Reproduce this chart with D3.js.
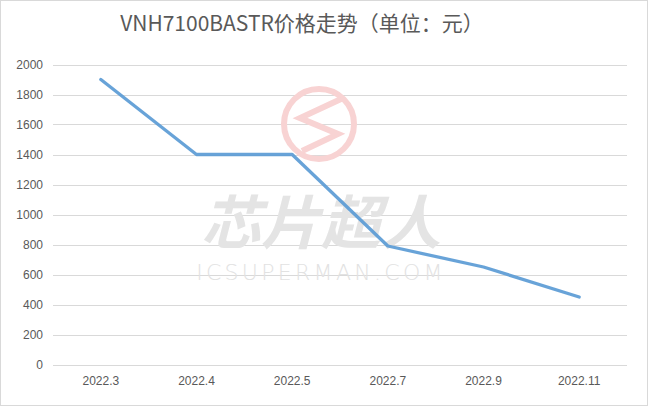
<!DOCTYPE html>
<html>
<head>
<meta charset="utf-8">
<script src="https://cdn.jsdelivr.net/npm/d3@7"></script>
<style>
  body { margin: 0; background: #fff; }
  svg { display: block; }
</style>
</head>
<body>
<svg id="chart"></svg>
<script>
// price trend data
var months = ['2022.3', '2022.4', '2022.5', '2022.7', '2022.9', '2022.11'];
var prices = [1900, 1400, 1400, 790, 650, 450];
var yTicks = [0, 200, 400, 600, 800, 1000, 1200, 1400, 1600, 1800, 2000];
var title = 'VNH7100BASTR价格走势（单位：元）';

var draw = function(){
    const width = 648, height = 406;
    const margin = {top: 64.5, right: 21, bottom: 41.5, left: 53};

    var svg = d3.select('svg#chart')
    .attr('width', width)
    .attr('height', height);

    // outer frame
    svg.append('rect')
    .attr('x', 0.5).attr('y', 0.5)
    .attr('width', width - 1).attr('height', height - 1)
    .attr('fill', '#fff')
    .attr('stroke', '#d9d9d9');

    var x = d3.scaleBand()
    .domain(months)
    .range([margin.left, width - margin.right]);

    var y = d3.scaleLinear()
    .domain([0, 2000])
    .range([height - margin.bottom, margin.top]);

    // gridlines
    svg.append('g')
    .selectAll('line')
    .data(yTicks)
    .enter().append('line')
    .attr('x1', margin.left)
    .attr('x2', width - margin.right)
    .attr('y1', d => Math.round(y(d)) + 0.5)
    .attr('y2', d => Math.round(y(d)) + 0.5)
    .attr('stroke', '#d9d9d9');

    // watermark
    var wm = svg.append('g');
    wm.append('circle')
    .attr('cx', 319).attr('cy', 124).attr('r', 35)
    .attr('fill', 'none')
    .attr('stroke', '#f8d3d3')
    .attr('stroke-width', 6);
    wm.append('path')
    .attr('d', 'M341,99 L300,118 L338,134 L302,151')
    .attr('fill', 'none')
    .attr('stroke', '#f8d3d3')
    .attr('stroke-width', 6)
    .attr('stroke-linejoin', 'miter');
    wm.append('text')
    .attr('transform', 'translate(321,244) scale(1.07,1.04)')
    .attr('text-anchor', 'middle')
    .attr('font-family', 'Noto Sans CJK SC')
    .attr('font-weight', 'bold')
    .attr('font-style', 'italic')
    .attr('font-size', 56)
    .attr('fill', '#e4e4e4')
    .text('芯片超人');
    wm.append('text')
    .attr('x', 321).attr('y', 280)
    .attr('text-anchor', 'middle')
    .attr('font-family', 'DejaVu Sans')
    .attr('font-weight', 200)
    .attr('font-size', 22)
    .attr('letter-spacing', 3.3)
    .attr('fill', '#e2e2e2')
    .text('ICSUPERMAN.COM');

    // y axis labels
    var yAxis = d3.axisLeft(y).tickValues(yTicks).tickFormat(d3.format('d')).tickSize(0).tickPadding(10);
    var gy = svg.append('g')
    .attr('transform', 'translate(' + margin.left + ',0)')
    .call(yAxis);
    gy.select('.domain').remove();
    gy.selectAll('text')
    .attr('font-family', 'Liberation Sans, Arial, sans-serif')
    .attr('font-size', 12)
    .attr('fill', '#595959');

    // x axis labels
    var xAxis = d3.axisBottom(x).tickSize(0).tickPadding(12);
    var gx = svg.append('g')
    .attr('transform', 'translate(0,' + (height - margin.bottom) + ')')
    .call(xAxis);
    gx.select('.domain').remove();
    gx.selectAll('text')
    .attr('font-family', 'Liberation Sans, Arial, sans-serif')
    .attr('font-size', 12)
    .attr('fill', '#595959');

    // price line
    var line = d3.line()
    .x((d, i) => x(months[i]) + x.bandwidth() / 2)
    .y(d => y(d));

    svg.append('path')
    .datum(prices)
    .attr('d', line)
    .attr('fill', 'none')
    .attr('stroke', '#5b9bd5')
    .attr('stroke-width', 3.3)
    .attr('stroke-opacity', 0.92)
    .attr('stroke-linecap', 'round')
    .attr('stroke-linejoin', 'round');

    // title
    svg.append('text')
    .attr('x', 302).attr('y', 31)
    .attr('text-anchor', 'middle')
    .attr('font-family', 'Noto Sans CJK SC, sans-serif')
    .attr('font-size', 21)
    .attr('fill', '#595959')
    .text(title);
}

draw();
</script>
</body>
</html>
